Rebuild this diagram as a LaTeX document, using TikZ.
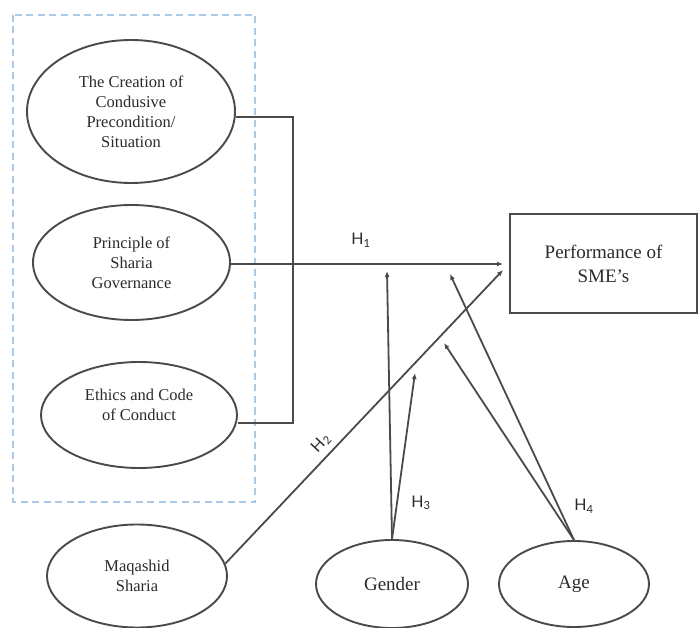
\documentclass[tikz,border=0pt]{standalone}
\usepackage{fontspec}
\setmainfont{Liberation Serif}
\newfontfamily\hfont{Lato}
\usetikzlibrary{shapes.geometric,arrows.meta}
\definecolor{linec}{HTML}{4A4A4A}
\definecolor{textc}{HTML}{2A2A2A}
\definecolor{boxblue}{HTML}{A9C9E6}
\begin{document}
\begin{tikzpicture}[x=1pt,y=-1pt,
  oval/.style={ellipse,draw=linec,line width=1.9pt,inner sep=0pt,align=center,
    font=\fontsize{16.5}{20}\selectfont,text=textc},
  bigoval/.style={oval,font=\fontsize{19}{23}\selectfont},
  conn/.style={draw=linec,line width=1.8pt},
  arr/.style={conn,-{Latex[length=6pt,width=5pt]}},
  hlab/.style={font=\hfont\fontsize{16}{18}\selectfont,text=textc,inner sep=1pt},
  groupbox/.style={draw=boxblue,line width=1.3pt,dash pattern=on 7pt off 4.5pt}]
\useasboundingbox (0,0) rectangle (699,628);
\draw[groupbox] (13,15) rectangle (255,502);

\node[oval,minimum width=208pt,minimum height=143pt] (e1) at (131,111.5)
  {The Creation of\\Condusive\\Precondition/\\Situation};
\node[oval,minimum width=197pt,minimum height=115pt] (e2) at (131.5,262.5)
  {Principle of\\Sharia\\Governance};
\node[oval,minimum width=196pt,minimum height=106pt] (e3) at (139,415)
  {Ethics and Code\\of Conduct\\~};
\node[oval,minimum width=180pt,minimum height=103pt] (maq) at (137,576)
  {Maqashid\\Sharia};
\node[bigoval,minimum width=152pt,minimum height=88pt] (gen) at (392,584) {Gender};
\node[bigoval,minimum width=150pt,minimum height=86pt] (age) at (574,584) {Age};
\node[draw=linec,line width=1.8pt,minimum width=187pt,minimum height=99pt,inner sep=0pt,
  align=center,text=textc,font=\fontsize{19}{24}\selectfont] (perf) at (603.5,263.5)
  {Performance of\\SME’s};

\coordinate (b1) at (293,117);
\coordinate (b3) at (293,423);
\coordinate (h1end) at (503,264);
\coordinate (h2end) at (503,270);
\coordinate (m1) at (387,271);
\coordinate (m2) at (415,373);
\coordinate (m3) at (450,274);
\coordinate (m4) at (444,343);

\draw[conn] (e1.east |- b1) -- (b1) -- (b3) -- (e3.east |- b3);
\draw[arr] (e2.east |- h1end) -- (h1end);
\draw[arr] (maq.8) -- (h2end);
\draw[arr] (gen.north) -- (m1);
\draw[arr] (gen.north) -- (m2);
\draw[arr] (age.north) -- (m3);
\draw[arr] (age.north) -- (m4);

\node[hlab] (h1) at (361,240) {H\textsubscript{1}};
\node[hlab,rotate=47] (h2) at (321,443) {H\textsubscript{2}};
\node[hlab] (h3) at (421,503) {H\textsubscript{3}};
\node[hlab] (h4) at (584,506) {H\textsubscript{4}};
\end{tikzpicture}
\end{document}
